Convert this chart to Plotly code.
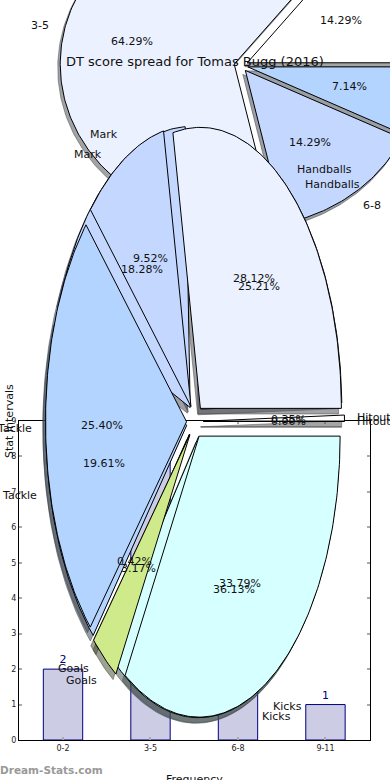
import numpy as np
import plotly.graph_objects as go

# ---- data ----
bar_categories = ["0-2", "3-5", "6-8", "9-11"]
bar_counts = [2, 9, 2, 1]
y_ticks = [0, 1, 2, 3, 4, 5, 6, 7, 8, 9]

spread_labels = ["0-2", "3-5", "6-8", "9-11"]
spread_values = [14.29, 64.29, 14.29, 7.14]

stat_labels = ["Hitout", "Handballs", "Mark", "Tackle", "Goals", "Kicks"]
stat_values_back = [0.35, 25.21, 18.28, 19.61, 0.42, 36.13]
stat_values_front = [0.00, 28.12, 9.52, 25.40, 3.17, 33.79]

title_text = "DT score spread for Tomas Bugg (2016)"
y_title = "Stat Intervals"
x_title = "Frequency"
watermark = "Dream-Stats.com"

# ---- style ----
STAT_COLORS = ["#ffffff", "#ebf1ff", "#c4d7ff", "#b3d4ff", "#cfea8a", "#d6ffff"]
FONT = "DejaVu Sans"
W, H = 390, 780
PLOT_L, PLOT_R, PLOT_T, PLOT_B = 19, 370, 421, 740


def shade(hex_color):
    r, g, b = (int(hex_color[i:i + 2], 16) for i in (1, 3, 5))
    return f"rgba({int(r * .3)},{int(g * .3)},{int(b * .3)},0.5)"


def wedges(values, cx, cy, rx, ry, explode):
    """Ellipse-stretched exploded pie, counter-clockwise from 3 o'clock."""
    out, cum = [], 0.0
    total = sum(values)
    for v in values:
        a0, a1 = cum / total * 2 * np.pi, (cum + v) / total * 2 * np.pi
        cum += v
        mid = (a0 + a1) / 2
        ax = cx + explode * rx * np.cos(mid)
        ay = cy - explode * ry * np.sin(mid)
        t = np.linspace(a0, a1, max(2, int((a1 - a0) * 60)))
        xs = np.r_[ax, ax + rx * np.cos(t), ax]
        ys = np.r_[ay, ay - ry * np.sin(t), ay]
        out.append(dict(xs=xs, ys=ys, mid=mid, value=v))
    return out


def add_pie_shadows(fig, pie, colors, sx, sy):
    for w, c in zip(pie, colors):
        fig.add_trace(go.Scatter(x=w["xs"] + sx, y=w["ys"] + sy, mode="lines", fill="toself",
                                 fillcolor=shade(c), line=dict(color=shade(c), width=1),
                                 hoverinfo="skip", showlegend=False, xaxis="x2", yaxis="y2"))


def add_pie(fig, pie, colors):
    for w, c in zip(pie, colors):
        fig.add_trace(go.Scatter(x=w["xs"], y=w["ys"], mode="lines", fill="toself",
                                 fillcolor=c, line=dict(color="#000000", width=1),
                                 hoverinfo="skip", showlegend=False, xaxis="x2", yaxis="y2"))


def pie_texts(pie, labels, cx, cy, rx, ry, explode, pct_yshift=0):
    notes = []
    for w, lab in zip(pie, labels):
        c, s = np.cos(w["mid"]), np.sin(w["mid"])
        lx, ly = cx + (1.1 + explode) * rx * c, cy - (1.1 + explode) * ry * s
        notes.append(dict(x=lx, y=ly, text=lab, xanchor="left" if c >= 0 else "right",
                          yanchor="middle", xshift=-4 if c >= 0 else 3))
        px, py = cx + (0.6 + explode) * rx * c, cy - (0.6 + explode) * ry * s
        notes.append(dict(x=px, y=py, text=f"{w['value']:.2f}%", xanchor="center", yanchor="middle",
                          yshift=pct_yshift))
    return notes


fig = go.Figure()

# bar chart underneath
fig.add_trace(go.Bar(x=list(range(len(bar_counts))), y=bar_counts, width=0.45,
                     marker=dict(color="#ccccE5", line=dict(color="#000080", width=1)),
                     text=[str(v) for v in bar_counts], textposition="outside", cliponaxis=False,
                     textfont=dict(family=FONT, size=11, color="#000080"),
                     hoverinfo="skip", showlegend=False))

# spread pie (top)
TOP = dict(cx=241, cy=65.5, rx=174, ry=157, explode=0.04)
spread_colors = STAT_COLORS[:4]
top_pie = wedges(spread_values, **TOP)
add_pie_shadows(fig, top_pie, spread_colors, -2.5, 4)
add_pie(fig, top_pie, spread_colors)

# stat pies (stretched, overlaid)
BIG = dict(cx=195, cy=421.4, rx=141, ry=281, explode=0.06)
back_pie = wedges(stat_values_back, **BIG)
front_pie = wedges(stat_values_front, **BIG)
add_pie_shadows(fig, back_pie, STAT_COLORS, -2.8, 5.6)
add_pie_shadows(fig, front_pie, STAT_COLORS, -2.8, 5.6)
add_pie(fig, back_pie, STAT_COLORS)
add_pie(fig, front_pie, STAT_COLORS)

notes = (pie_texts(top_pie, spread_labels, pct_yshift=1.5, **TOP)
         + pie_texts(back_pie, stat_labels, **BIG)
         + pie_texts(front_pie, stat_labels, **BIG))
annotations = [dict(n, xref="x2", yref="y2", showarrow=False,
                    font=dict(family=FONT, size=11, color="#111111")) for n in notes]
annotations += [
    dict(x=195, y=61, text=title_text, xref="x2", yref="y2", showarrow=False,
         font=dict(family=FONT, size=13, color="#111111")),
    dict(x=10, y=421, xshift=-1, text=y_title, textangle=-90, xref="x2", yref="y2", showarrow=False,
         font=dict(family=FONT, size=11, color="#111111")),
    dict(x=194, y=780, yshift=1, text=x_title, xref="x2", yref="y2", showarrow=False,
         font=dict(family=FONT, size=11, color="#111111")),
    dict(x=0, xshift=-2, y=770, text=watermark, xanchor="left", xref="x2", yref="y2", showarrow=False,
         font=dict(family=FONT, size=10.5, color="#999999", weight="bold")),
]

fig.update_layout(
    width=W, height=H, autosize=False, margin=dict(l=0, r=0, t=0, b=0),
    paper_bgcolor="white", plot_bgcolor="rgba(0,0,0,0)", showlegend=False,
    annotations=annotations,
    xaxis=dict(domain=[PLOT_L / W, PLOT_R / W], range=[-0.503, 3.509], automargin=False,
               tickmode="array", tickvals=list(range(len(bar_categories))), ticktext=bar_categories,
               showgrid=False, zeroline=False, showline=True, linecolor="black", linewidth=1,
               mirror="ticks", ticks="inside", ticklen=3, tickwidth=2, tickcolor="#aaaaaa",
               tickfont=dict(family=FONT, size=8, color="#222222"), anchor="y"),
    yaxis=dict(domain=[(H - PLOT_B) / H, (H - PLOT_T) / H], range=[0, 9], automargin=False,
               tickmode="array", tickvals=y_ticks,
               showgrid=False, zeroline=False, showline=True, linecolor="black", linewidth=1,
               mirror="ticks", ticks="inside", ticklen=3, tickwidth=2, tickcolor="#aaaaaa",
               tickfont=dict(family=FONT, size=8, color="#222222"), anchor="x"),
    xaxis2=dict(domain=[0, 1], range=[0, W], visible=False, anchor="y2", fixedrange=True, automargin=False),
    yaxis2=dict(domain=[0, 1], range=[H, 0], visible=False, anchor="x2", fixedrange=True, automargin=False),
)

fig.write_html("out.html", config={"displayModeBar": False},
               post_script="document.body.style.margin='0';document.body.style.overflow='hidden';")
